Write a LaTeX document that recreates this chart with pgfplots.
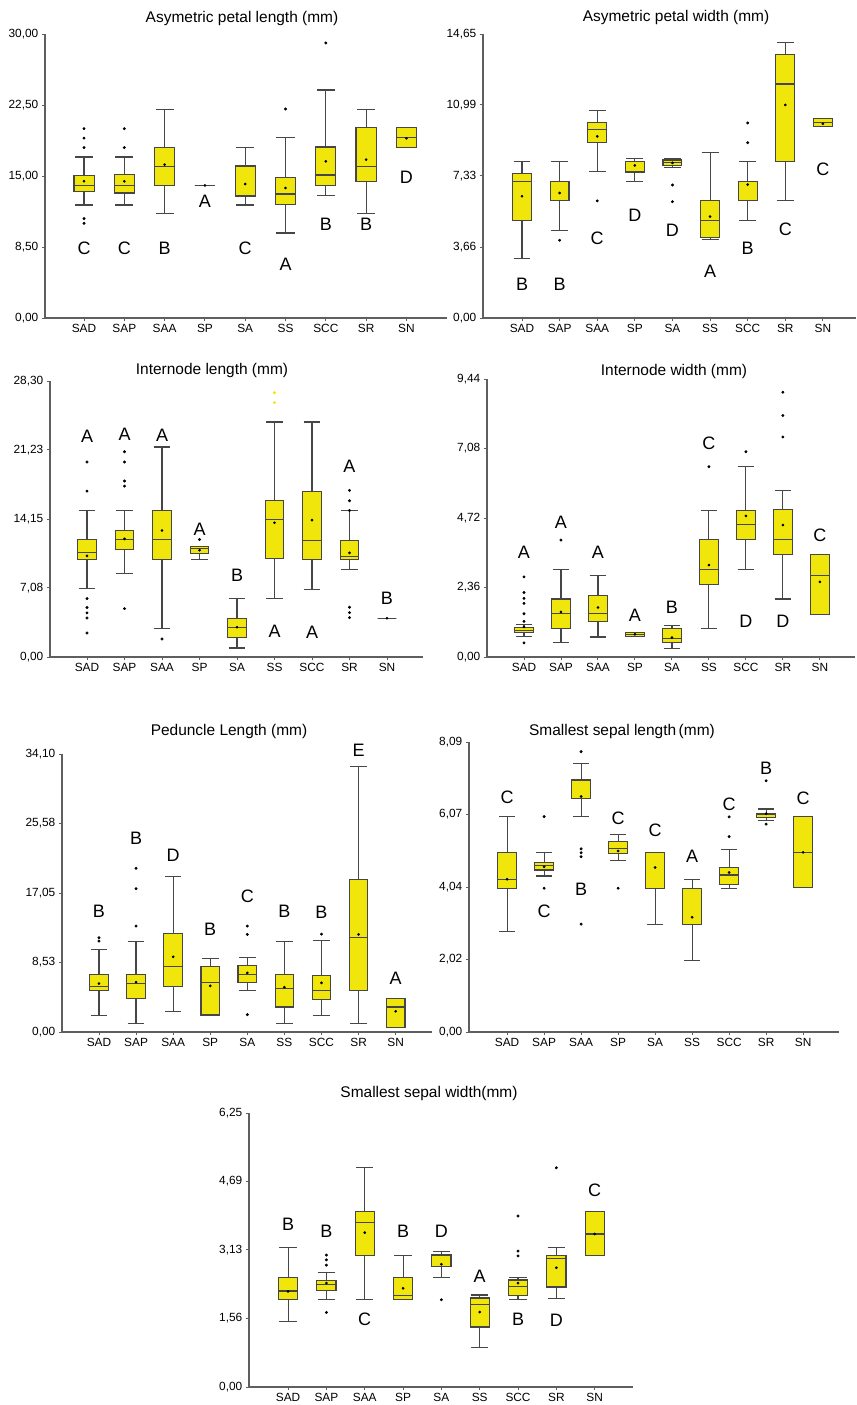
\documentclass[border=0pt]{standalone}
\usepackage{pgfplots}
\pgfplotsset{compat=1.18}
\usepgfplotslibrary{statistics}
\usepackage{fontspec}
\setmainfont{Liberation Sans}
\definecolor{byellow}{RGB}{240,230,12}
\definecolor{boxgray}{RGB}{70,70,70}
\definecolor{axgray}{RGB}{95,95,95}
\tikzset{
  ltr/.style={font=\fontsize{13.5}{15}\selectfont, inner sep=0pt},
  ttl/.style={font=\fontsize{11.6}{14}\selectfont, inner sep=0pt}
}
\pgfplotsset{
  pan/.style={scale only axis, anchor=south west,
    axis x line=bottom, axis y line=left,
    axis line style={-, draw=axgray, line width=0.9pt},
    xmin=-1, xmax=9, ymin=0,
    xtick={0,...,8}, xticklabels={SAD,SAP,SAA,SP,SA,SS,SCC,SR,SN},
    tick align=outside, major tick length=2.5pt,
    tick style={axgray, line width=0.7pt},
    xticklabel style={font=\fontsize{8.9}{10}\selectfont, yshift=1pt},
    yticklabel style={font=\fontsize{8.9}{10}\selectfont, xshift=1pt},
    clip=false,
    boxplot/draw direction=y,
    boxplot/box extend=0.5, boxplot/whisker extend=0.45},
  bxs/.style={draw=boxgray, fill=byellow, line width=0.85pt, solid, mark=none},
  mn/.style={only marks, mark=*, mark size=0.8pt, black},
  ol/.style={only marks, mark=*, mark size=0.9pt, black}
}
\newcommand{\bx}[6]{\addplot[bxs, boxplot prepared={draw position=#1, lower whisker=#2, lower quartile=#3, median=#4, upper quartile=#5, upper whisker=#6}, boxplot/draw direction=y] coordinates {};}
\newcommand{\lt}[3]{\node[ltr] at (axis cs:#1,#2) {#3};}
\begin{document}
\begin{tikzpicture}
\path[use as bounding box] (0,0) rectangle (642pt,1053.75pt);
% ---------- Panel 1
\begin{axis}[pan, at={(33.75pt,815.25pt)}, width=301.5pt, height=213pt,
  xmin=-0.968, xmax=9.007, ymax=30, ytick={0,7.5,15,22.5,30},
  yticklabels={{0,00},{8,50},{15,00},{22,50},{30,00}}]
\bx{0}{11.94}{13.38}{14.0}{15.07}{17.0}
\bx{1}{11.94}{13.2}{14.0}{15.14}{17.0}
\bx{2}{11.06}{14.01}{16.02}{18.03}{22.04}
\bx{3}{14}{14}{14}{14}{14}
\bx{4}{11.94}{12.89}{16.06}{16.06}{17.99}
\bx{5}{8.98}{12.0}{13.1}{14.82}{19.05}
\bx{6}{12.96}{14.01}{15.1}{18.06}{24.08}
\bx{7}{11.06}{14.4}{16.02}{20.1}{22.04}
\bx{8}{18.03}{18.03}{19.08}{20.1}{20.1}
\addplot[mn] coordinates {(0,14.44)(1,14.44)(2,16.2)(3,14)(4,14.15)(5,13.73)(6,16.55)(7,16.73)(8,18.98)};
\addplot[ol] coordinates {(0,20)(0,19)(0,18)(0,10.5)(0,10)(1,20)(1,18)(5,22.08)(6,29.05)};
\lt{0}{7.39}{C}\lt{1}{7.39}{C}\lt{2}{7.39}{B}\lt{3}{12.32}{A}\lt{4}{7.39}{C}
\lt{5}{5.7}{A}\lt{6}{9.86}{B}\lt{7}{9.86}{B}\lt{8}{14.86}{D}
\end{axis}
% ---------- Panel 2
\begin{axis}[pan, at={(362.25pt,815.25pt)}, width=279.75pt, height=213pt,
  xmin=-1.037, xmax=8.88, ymax=14.65, ytick={0,3.66,7.33,10.99,14.65},
  yticklabels={{0,00},{3,66},{7,33},{10,99},{14,65}}]
\bx{0}{3.09}{5.02}{7.05}{7.46}{8.05}
\bx{1}{4.52}{6.04}{7.05}{7.05}{8.05}
\bx{2}{7.55}{9.03}{9.71}{10.09}{10.71}
\bx{3}{7.05}{7.53}{8.05}{8.05}{8.24}
\bx{4}{7.77}{7.87}{8.03}{8.15}{8.24}
\bx{5}{4.04}{4.14}{5.02}{6.04}{8.55}
\bx{6}{5.02}{6.04}{7.05}{7.05}{8.05}
\bx{7}{6.04}{8.06}{12.07}{13.58}{14.19}
\bx{8}{9.87}{9.87}{10.09}{10.3}{10.3}
\addplot[mn] coordinates {(0,6.28)(1,6.45)(2,9.37)(3,7.87)(4,8.0)(5,5.23)(6,6.88)(7,10.99)(8,10.02)};
\addplot[ol] coordinates {(1,4.01)(2,6.04)(4,6.86)(4,6.0)(6,9.04)(6,10.06)};
\lt{0}{1.72}{B}\lt{1}{1.72}{B}\lt{2}{4.13}{C}\lt{3}{5.28}{D}\lt{4}{4.52}{D}
\lt{5}{2.41}{A}\lt{6}{3.61}{B}\lt{7}{4.56}{C}\lt{8}{7.69}{C}
\end{axis}
% ---------- Panel 3
\begin{axis}[pan, at={(37.5pt,561pt)}, width=279.75pt, height=207pt,
  xmin=-0.987, xmax=8.96, ymax=28.3, ytick={0,7.08,14.15,21.23,28.3},
  yticklabels={{0,00},{7,08},{14,15},{21,23},{28,30}}]
\bx{0}{7.02}{9.99}{10.75}{12.05}{15.02}
\bx{1}{8.52}{11.02}{12.05}{13.0}{15.02}
\bx{2}{2.94}{9.99}{12.05}{15.02}{21.53}
\bx{3}{9.99}{10.61}{11.09}{11.36}{11.36}
\bx{4}{0.92}{1.98}{2.98}{3.97}{5.99}
\bx{5}{5.99}{10.06}{14.1}{16.02}{24.09}
\bx{6}{6.95}{9.99}{11.98}{16.97}{24.09}
\bx{7}{8.97}{9.99}{10.3}{11.98}{15.02}
\bx{8}{3.97}{3.97}{3.97}{3.97}{3.97}
\addplot[mn] coordinates {(0,10.37)(1,12.11)(2,12.97)(3,10.95)(4,3.05)(5,13.76)(6,14.03)(7,10.68)(8,3.97)};
\addplot[ol] coordinates {(0,19.99)(0,17.01)(0,5.99)(0,5.07)(0,4.52)(0,4.0)(0,2.46)(1,21.05)(1,19.99)(1,18.04)(1,17.52)(1,4.96)(2,1.85)(3,12.05)(7,17.08)(7,16.02)(7,15.02)(7,5.1)(7,4.55)(7,4.04)};
\addplot[ol, byellow] coordinates {(5,27.1)(5,26.08)};
\lt{0}{22.66}{A}\lt{1}{22.83}{A}\lt{2}{22.75}{A}\lt{3}{13.07}{A}\lt{4}{8.42}{B}
\lt{5}{2.67}{A}\lt{6}{2.57}{A}\lt{7}{19.51}{A}\lt{8}{5.99}{B}
\end{axis}
% ---------- Panel 4
\begin{axis}[pan, at={(365.25pt,561pt)}, width=276pt, height=208.5pt,
  xmin=-1.0, xmax=8.95, ymax=9.44, ytick={0,2.36,4.72,7.08,9.44},
  yticklabels={{0,00},{2,36},{4,72},{7,08},{9,44}}]
\bx{0}{0.70}{0.82}{0.91}{1.0}{1.09}
\bx{1}{0.48}{0.96}{1.47}{1.97}{2.97}
\bx{2}{0.68}{1.21}{1.47}{2.08}{2.76}
\bx{3}{0.70}{0.70}{0.77}{0.84}{0.84}
\bx{4}{0.28}{0.48}{0.62}{0.96}{1.07}
\bx{5}{0.98}{2.46}{2.98}{3.98}{4.98}
\bx{6}{2.97}{3.98}{4.50}{4.98}{6.47}
\bx{7}{1.97}{3.48}{3.99}{5.0}{5.64}
\bx{8}{1.45}{1.45}{2.77}{3.49}{3.49}
\addplot[mn] coordinates {(0,1.02)(1,1.53)(2,1.68)(3,0.77)(4,0.66)(5,3.12)(6,4.79)(7,4.48)(8,2.55)};
\addplot[ol] coordinates {(0,2.72)(0,2.19)(0,1.99)(0,1.82)(0,1.47)(0,1.21)(0,0.48)(1,3.97)(5,6.46)(6,6.97)(7,8.99)(7,8.2)(7,7.47)};
\lt{0}{3.54}{A}\lt{1}{4.56}{A}\lt{2}{3.57}{A}\lt{3}{1.40}{A}\lt{4}{1.68}{B}
\lt{5}{7.26}{C}\lt{6}{1.21}{D}\lt{7}{1.21}{D}\lt{8}{4.12}{C}
\end{axis}
% ---------- Panel 5
\begin{axis}[pan, at={(46.5pt,279.75pt)}, width=277.5pt, height=208.5pt,
  xmin=-0.997, xmax=8.98, ymax=34.1, ytick={0,8.53,17.05,25.58,34.1},
  yticklabels={{0,00},{8,53},{17,05},{25,58},{34,10}}]
\bx{0}{2.05}{5.04}{5.53}{7.09}{10.12}
\bx{1}{1.07}{4.10}{5.90}{7.09}{11.07}
\bx{2}{2.54}{5.61}{8.07}{12.09}{19.06}
\bx{3}{2.09}{2.09}{6.07}{8.07}{9.02}
\bx{4}{5.12}{6.02}{7.09}{8.11}{9.10}
\bx{5}{1.07}{3.07}{5.33}{7.05}{11.07}
\bx{6}{2.05}{4.02}{5.12}{6.97}{11.19}
\bx{7}{1.07}{5.04}{11.56}{18.73}{32.58}
\bx{8}{0.53}{0.53}{3.07}{4.10}{4.10}
\addplot[mn] coordinates {(0,5.94)(1,6.11)(2,9.22)(3,5.66)(4,7.25)(5,5.49)(6,6.02)(7,11.97)(8,2.54)};
\addplot[ol] coordinates {(0,11.56)(0,11.15)(1,20.08)(1,17.58)(1,12.99)(4,12.99)(4,11.97)(4,2.13)(6,12.01)};
\lt{0}{14.75}{B}\lt{1}{23.77}{B}\lt{2}{21.72}{D}\lt{3}{12.58}{B}\lt{4}{16.68}{C}
\lt{5}{14.75}{B}\lt{6}{14.63}{B}\lt{7}{34.51}{E}\lt{8}{6.64}{A}
\end{axis}
% ---------- Panel 6
\begin{axis}[pan, at={(351.75pt,279.75pt)}, width=277.5pt, height=217.5pt,
  xmin=-1.03, xmax=8.97, ymax=8.09, ytick={0,2.02,4.04,6.07,8.09},
  yticklabels={{0,00},{2,02},{4,04},{6,07},{8,09}}]
\bx{0}{2.81}{4.01}{4.26}{5.01}{6.0}
\bx{1}{4.35}{4.52}{4.64}{4.74}{5.0}
\bx{2}{6.01}{6.51}{6.51}{7.03}{7.5}
\bx{3}{4.78}{4.99}{5.11}{5.31}{5.51}
\bx{4}{3.01}{4.01}{5.0}{5.0}{5.0}
\bx{5}{2.0}{3.01}{4.0}{4.0}{4.26}
\bx{6}{4.0}{4.12}{4.38}{4.59}{5.09}
\bx{7}{5.9}{5.99}{6.06}{6.10}{6.22}
\bx{8}{4.03}{4.03}{5.01}{6.01}{6.01}
\addplot[mn] coordinates {(0,4.26)(1,4.61)(2,6.57)(3,5.05)(4,4.59)(5,3.20)(6,4.45)(7,6.09)(8,5.01)};
\addplot[ol] coordinates {(1,6.01)(1,4.01)(2,7.82)(2,5.11)(2,5.0)(2,4.89)(2,3.01)(3,4.01)(6,5.45)(6,6.0)(7,7.01)(7,5.80)};
\lt{0}{6.54}{C}\lt{1}{3.37}{C}\lt{2}{3.98}{B}\lt{3}{5.96}{C}\lt{4}{5.64}{C}
\lt{5}{4.91}{A}\lt{6}{6.36}{C}\lt{7}{7.36}{B}\lt{8}{6.52}{C}
\end{axis}
% ---------- Panel 7
\begin{axis}[pan, at={(186.75pt,13.5pt)}, width=288pt, height=205.5pt,
  xmin=-1.02, xmax=9.0, ymax=6.25, ytick={0,1.56,3.13,4.69,6.25},
  yticklabels={{0,00},{1,56},{3,13},{4,69},{6,25}}]
\bx{0}{1.49}{1.99}{2.19}{2.50}{3.19}
\bx{1}{1.99}{2.21}{2.33}{2.42}{2.61}
\bx{2}{1.99}{3.0}{3.75}{4.0}{5.0}
\bx{3}{1.99}{1.99}{2.09}{2.50}{2.99}
\bx{4}{2.49}{2.75}{3.01}{3.01}{3.10}
\bx{5}{0.90}{1.37}{1.89}{2.03}{2.10}
\bx{6}{1.99}{2.09}{2.29}{2.44}{2.50}
\bx{7}{2.01}{2.28}{2.93}{3.0}{3.19}
\bx{8}{2.99}{2.99}{3.49}{4.0}{4.0}
\addplot[mn] coordinates {(0,2.18)(1,2.37)(2,3.52)(3,2.25)(4,2.80)(5,1.71)(6,2.37)(7,2.72)(8,3.49)};
\addplot[ol] coordinates {(1,3.01)(1,2.90)(1,2.78)(1,1.70)(4,1.99)(6,3.90)(6,3.10)(6,2.99)(7,5.0)};
\lt{0}{3.72}{B}\lt{1}{3.54}{B}\lt{2}{1.55}{C}\lt{3}{3.54}{B}\lt{4}{3.54}{D}
\lt{5}{2.53}{A}\lt{6}{1.55}{B}\lt{7}{1.53}{D}\lt{8}{4.48}{C}
\end{axis}
% ---------- Titles
\node[ttl] at (181.5pt,1039.5pt) {Asymetric petal length (mm)};
\node[ttl] at (507pt,1040.25pt) {Asymetric petal width (mm)};
\node[ttl] at (159pt,775.5pt) {Internode length (mm)};
\node[ttl] at (505.5pt,774.75pt) {Internode width (mm)};
\node[ttl] at (171.75pt,504.75pt) {Peduncle Length (mm)};
\node[ttl] at (466.5pt,504.75pt) {Smallest sepal length\,(mm)};
\node[ttl] at (321.75pt,233.25pt) {Smallest sepal width(mm)};
\end{tikzpicture}
\end{document}
